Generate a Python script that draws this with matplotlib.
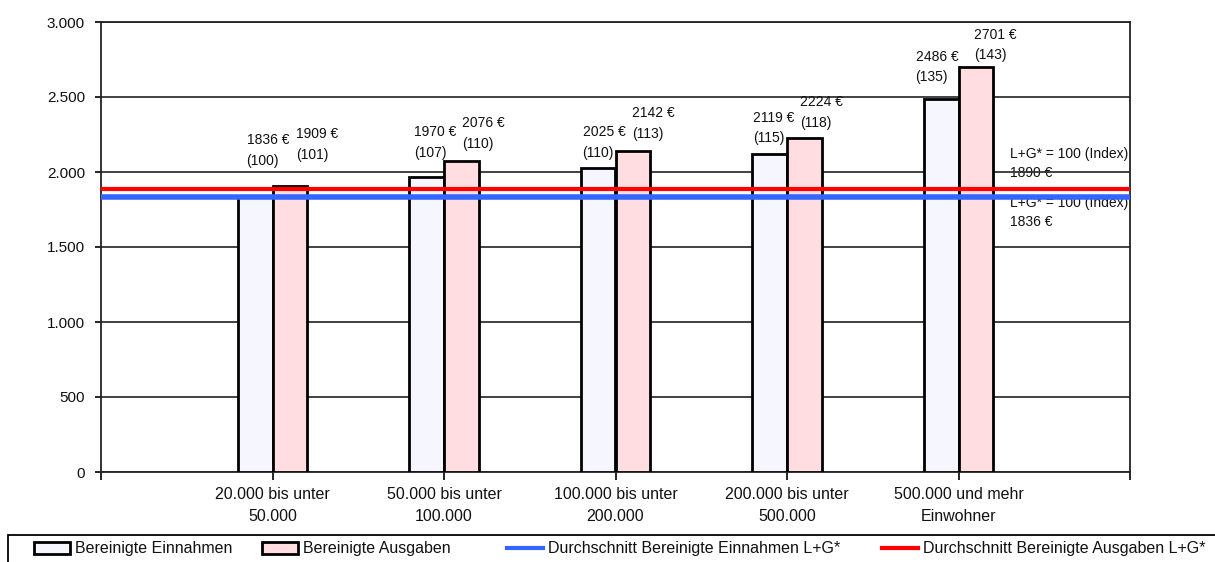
import matplotlib
matplotlib.use("Agg")
import matplotlib.pyplot as plt
from matplotlib.patches import Patch, Rectangle
from matplotlib.lines import Line2D
from matplotlib.ticker import FuncFormatter

plt.rcParams['font.family'] = ['Liberation Sans', 'DejaVu Sans']

categories = ["20.000 bis unter\n50.000", "50.000 bis unter\n100.000",
              "100.000 bis unter\n200.000", "200.000 bis unter\n500.000",
              "500.000 und mehr\nEinwohner"]
einnahmen = [1836, 1970, 2025, 2119, 2486]
ausgaben = [1909, 2076, 2142, 2224, 2701]
index_einnahmen = [100, 107, 110, 115, 135]
index_ausgaben = [101, 110, 113, 118, 143]
avg_einnahmen = 1836
avg_ausgaben = 1890
yticks = [0, 500, 1000, 1500, 2000, 2500, 3000]

# label placement (pixel offsets relative to bar's top-left corner)
dx_ein = [9, 5, 2, 1, -8]
dy_ein = [46, 34, 26, 26, 32]
dx_aus = [24, 18, 17, 13, 16]
dy_aus = [41, 27, 27, 26, 22]

col_ein = "#F5F6FF"
col_aus = "#FFDDE0"
col_blue = "#3366FF"
col_red = "#FF0000"
txt_col = "#111111"

fig = plt.figure(figsize=(12.15, 5.62), dpi=100)
ax = fig.add_axes([101/1215, 1-472/562, (1130-101)/1215, 450/562])

w = 0.204
x = list(range(len(categories)))
ax.bar([i - w/2 for i in x], einnahmen, width=w, color=col_ein,
       edgecolor="black", linewidth=2, zorder=3)
ax.bar([i + w/2 for i in x], ausgaben, width=w, color=col_aus,
       edgecolor="black", linewidth=2, zorder=3)

ax.axhline(avg_ausgaben, color=col_red, lw=3, zorder=4)
ax.axhline(avg_einnahmen, color=col_blue, lw=4, zorder=4)

for i in x:
    ax.annotate(f"{einnahmen[i]} €\n({index_einnahmen[i]})",
                xy=(i - w, einnahmen[i]), xytext=(dx_ein[i], dy_ein[i]),
                textcoords="offset pixels", ha="left", va="center",
                fontsize=10, linespacing=1.6, color=txt_col, zorder=5)
    ax.annotate(f"{ausgaben[i]} €\n({index_ausgaben[i]})",
                xy=(i, ausgaben[i]), xytext=(dx_aus[i], dy_aus[i]),
                textcoords="offset pixels", ha="left", va="center",
                fontsize=10, linespacing=1.6, color=txt_col, zorder=5)

ax.text(4.30, 2057, f"L+G* = 100 (Index)\n{avg_ausgaben} €", ha="left",
        va="center", fontsize=10, linespacing=1.45, color=txt_col, zorder=0.4)
ax.text(4.30, 1733, f"L+G* = 100 (Index)\n{avg_einnahmen} €", ha="left",
        va="center", fontsize=10, linespacing=1.45, color=txt_col, zorder=0.4)

ax.set_xlim(-1, 5)
ax.set_ylim(0, 3000)
ax.set_yticks(yticks)
ax.yaxis.set_major_formatter(FuncFormatter(lambda v, p: f"{int(v):,}".replace(",", ".")))
ax.set_xticks(list(range(-1, 6)))
ax.set_xticklabels([""] + categories + [""], fontsize=11.5, linespacing=1.6)
ax.tick_params(axis="y", labelsize=11, length=4.5, width=1.2, pad=7, labelcolor=txt_col)
ax.tick_params(axis="x", length=6, width=1.2, pad=5, labelcolor=txt_col)
ax.grid(axis="y", color="#333333", lw=1.3)
ax.set_axisbelow(True)
for s in ["left", "bottom", "right", "top"]:
    ax.spines[s].set_linewidth(1.3)
    ax.spines[s].set_color("#222222")

# legend box
fig.add_artist(Rectangle((8/1215, -0.02), 1.0, (562-535)/562 + 0.02,
                         transform=fig.transFigure, facecolor="white",
                         edgecolor="black", linewidth=1.3))

handles = [
    Patch(facecolor=col_ein, edgecolor="black", linewidth=2),
    Patch(facecolor=col_aus, edgecolor="black", linewidth=2),
    Line2D([0], [0], color=col_blue, lw=3),
    Line2D([0], [0], color=col_red, lw=3),
]
labels = ["Bereinigte Einnahmen", "Bereinigte Ausgaben",
          "Durchschnitt Bereinigte Einnahmen L+G*",
          "Durchschnitt Bereinigte Ausgaben L+G*"]
leg_x = [34, 262, 507, 882]
for h, l, lx in zip(handles, labels, leg_x):
    lg = fig.legend([h], [l], loc="center left",
                    bbox_to_anchor=(lx/1215, 1-549/562), frameon=False,
                    fontsize=11.5, handlelength=2.25, handleheight=0.7,
                    handletextpad=0.3, borderpad=0, borderaxespad=0)
    for t in lg.get_texts():
        t.set_color(txt_col)

fig.savefig("out.png", dpi=100)
